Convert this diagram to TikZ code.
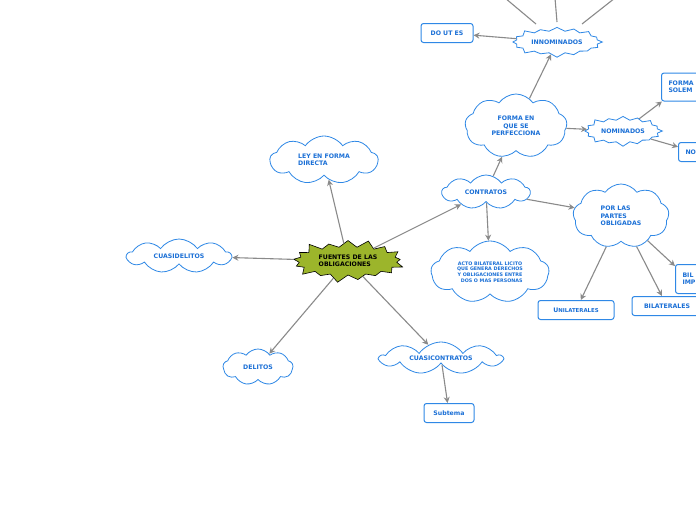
\documentclass[tikz,border=0pt]{standalone}
\usepackage{fontspec}
\setmainfont{DejaVu Sans}
\usetikzlibrary{shapes.symbols,arrows.meta}
\definecolor{tb}{HTML}{1A6FD6}
\definecolor{bd}{HTML}{2F88E6}
\definecolor{olv}{HTML}{9CB52B}
\definecolor{ar}{HTML}{8A8A8A}
\tikzset{
 txt/.style={text=tb,font=\fontsize{6.2}{7.4}\selectfont\bfseries,align=center},
 cl/.style={cloud,cloud puffs=9,cloud puff arc=110,cloud ignores aspect,draw=bd,fill=white,line width=0.8pt,inner sep=0pt,txt,minimum width=#1},
 bx/.style={draw=bd,line width=1pt,rounded corners=2.5pt,fill=white,inner sep=0pt,txt,minimum height=19pt},
 zz/.style={starburst,starburst points=16,starburst point height=5pt,draw=bd,fill=white,line width=0.8pt,inner sep=0pt,txt},
 con/.style={draw=ar,line width=1.1pt,-{Stealth[length=6pt,width=6pt]}},
 pl/.style={draw=ar,line width=1.1pt}
}
\begin{document}
\begin{tikzpicture}[x=1pt,y=-1pt]
\useasboundingbox (0,0) rectangle (696,520);
\clip (0,0) rectangle (696,520);
\fill[white] (0,0) rectangle (696,520);
\node[starburst,starburst points=17,starburst point height=9pt,draw=black,fill=olv,line width=0.6pt,inner sep=0pt,minimum width=116pt,minimum height=46pt,font=\fontsize{6.2}{7.2}\selectfont\bfseries,align=left] (c) at (348,261) {FUENTES DE LAS\\OBLIGACIONES};
\node[cl=108pt,minimum height=48pt,align=left] (ley) at (324,160) {LEY EN FORMA\\DIRECTA};
\node[cl=104pt,minimum height=34pt] (cd) at (179,256) {CUASIDELITOS};
\node[cl=70pt,minimum height=36pt] (del) at (258,367) {DELITOS};
\node[cl=122pt,minimum height=32pt] (cc) at (441,358) {CUASICONTRATOS};
\node[bx,minimum width=50pt] (sub) at (449,413) {Subtema};
\node[cl=88pt,minimum height=34pt] (con) at (486,192) {CONTRATOS};
\node[cl=118pt,minimum height=62pt,font=\fontsize{4.8}{5.8}\selectfont\bfseries] (acto) at (490,272) {ACTO BILATERAL LICITO\\QUE GENERA DERECHOS\\Y OBLIGACIONES ENTRE\\\ \ DOS O MAS PERSONAS};
\node[cl=102pt,minimum height=64pt] (fq) at (516,126) {FORMA EN\\QUE SE\\PERFECCIONA};
\node[zz,minimum width=92pt,minimum height=32pt] (inn) at (557,42) {INNOMINADOS};
\node[bx,minimum width=52pt] (do) at (447,33) {DO UT ES};
\node[zz,minimum width=80pt,minimum height=32pt] (nom) at (623,131) {NOMINADOS};
\node[bx,inner xsep=7pt,minimum height=28pt,align=left,anchor=west] (fs) at (661,87) {FORMA\hspace{12pt}\\SOLEM};
\node[bx,inner xsep=7pt,anchor=west] (no) at (678,152) {NO\hspace{10pt}};
\node[cl=96pt,minimum height=64pt,align=left] (por) at (621,216) {POR LAS\\PARTES\\OBLIGADAS};
\node[bx,minimum width=76pt] (uni) at (576,310) {U{\fontsize{5.4}{6}\selectfont NILATERALES}};
\node[bx,minimum width=70pt] (bil) at (667,306) {BILATERALES};
\node[bx,inner xsep=7pt,minimum height=29pt,align=left,anchor=west] (bi) at (675,279) {BIL\hspace{12pt}\\IMP};
\draw[con] (c) -- (ley);
\draw[con] (c) -- (cd);
\draw[con] (c) -- (del);
\draw[con] (c) -- (cc);
\draw[con] (c) -- (con);
\draw[con] (cc) -- (sub);
\draw[con] (con) -- (acto);
\draw[con] (con) -- (fq);
\draw[con] (con) -- (por);
\draw[con] (fq) -- (inn);
\draw[con] (fq) -- (nom);
\draw[con] (inn) -- (do);
\draw[con] (nom) -- (fs);
\draw[con] (nom) -- (no);
\draw[con] (por) -- (uni);
\draw[con] (por) -- (bil);
\draw[con] (por) -- (bi);
\coordinate (t1) at (505,-2); \coordinate (t2) at (555,-2); \coordinate (t3) at (615,-2);
\coordinate (s1) at (536,24); \coordinate (s2) at (557,22); \coordinate (s3) at (582,24);
\draw[pl] (s1) -- (t1);
\draw[pl] (s2) -- (t2);
\draw[pl] (s3) -- (t3);
\end{tikzpicture}
\end{document}
